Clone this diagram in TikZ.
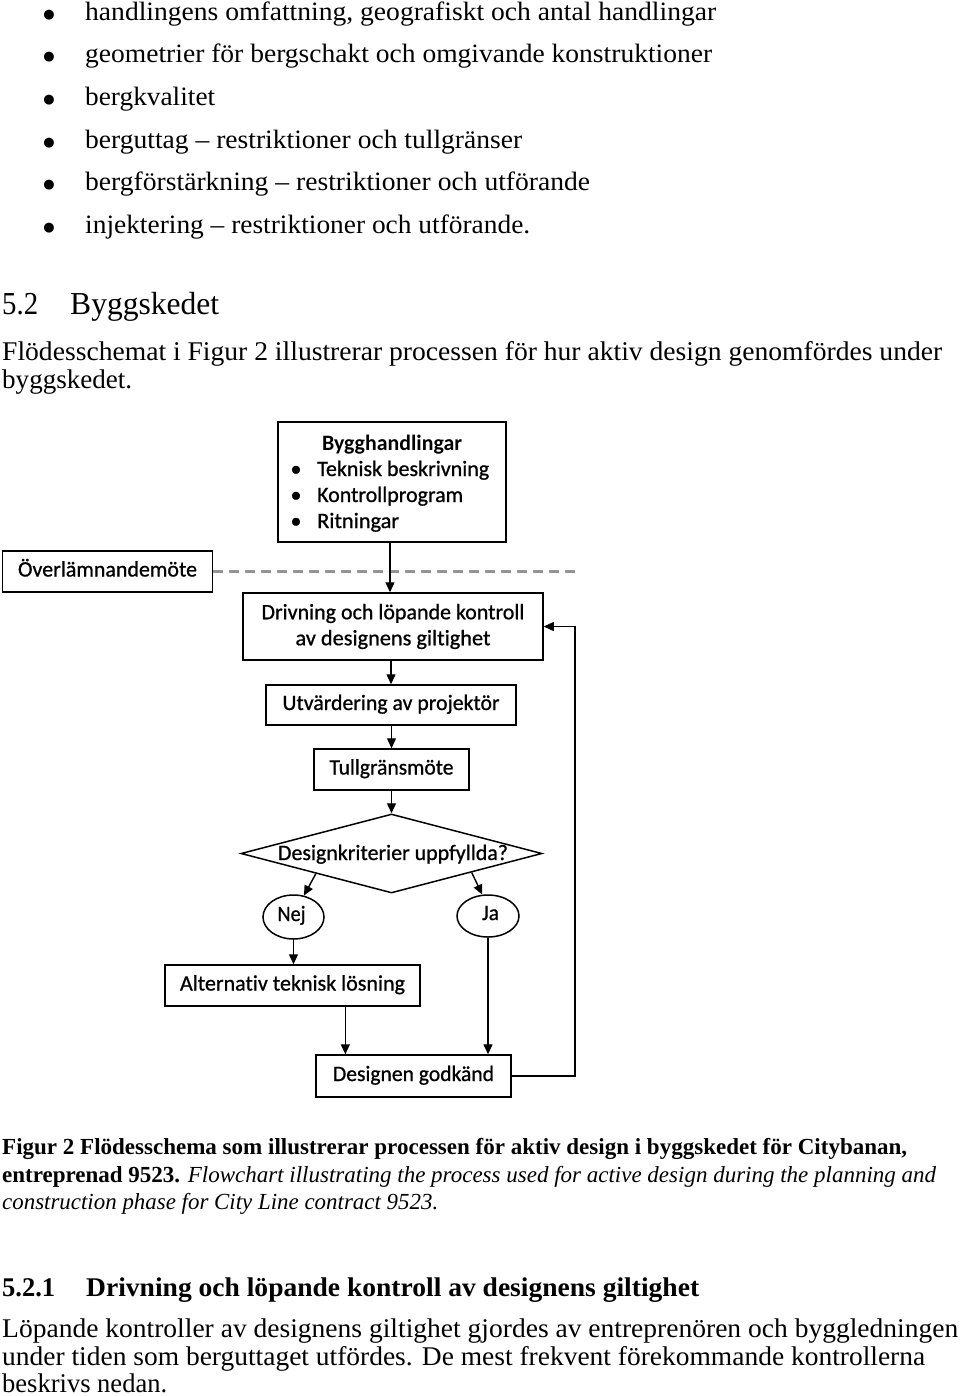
\documentclass[tikz,border=0pt]{standalone}
\usepackage{fontspec}
\usepackage{graphicx}
\setmainfont{Liberation Serif}
\newfontfamily\flowfont[Ligatures={NoCommon},FakeBold=0.8]{Carlito}
\newfontfamily\flowbold[Ligatures={NoCommon}]{Carlito Bold}
\newfontfamily\dotfont{DejaVu Sans}
\usetikzlibrary{arrows.meta,shapes.geometric,calc}
\newlength\fwlen
\newcommand\fitw[2]{\settowidth{\fwlen}{#2}\pgfmathsetmacro\fwr{#1/\fwlen}\scalebox{\fwr}[1]{#2}}
\begin{document}
\begin{tikzpicture}[x=1pt,y=-1pt,
  ptxt/.style={anchor=base west, inner sep=0pt, font=\fontsize{26.5}{30}\selectfont},
  pdot/.style={anchor=base, inner sep=0pt, font=\dotfont\fontsize{13}{15}\selectfont},
  htxt/.style={anchor=base west, inner sep=0pt, font=\fontsize{32}{36}\selectfont},
  btxt/.style={anchor=base west, inner sep=0pt, font=\fontsize{27}{30}\selectfont},
  ctxt/.style={anchor=base west, inner sep=0pt, font=\fontsize{23}{27}\selectfont},
  box/.style={draw=black, line width=1.5pt, rectangle, inner sep=0pt, align=center,
    font=\flowfont\fontsize{22}{26}\selectfont},
  thick box/.style={box, line width=1.9pt},
  oneline/.style={text height=15pt, text depth=5pt},
  ftxt/.style={inner sep=0pt, font=\flowfont\fontsize{22}{26}\selectfont},
  ell/.style={draw=black, line width=1.5pt, ellipse, inner sep=0pt},
  arr/.style={line width=1.4pt, -{Triangle[length=10pt,width=9pt]}},
  dashline/.style={line width=2.6pt, draw=black!42, dash pattern=on 10pt off 6pt}
]
\useasboundingbox (0,0) rectangle (960,1396);
\fill[white] (0,0) rectangle (960,1396);

% ---- bullet list ----
\node[pdot] (d1) at (49,18.5) {●};
\node[pdot] (d2) at (49,61) {●};
\node[pdot] (d3) at (49,104) {●};
\node[pdot] (d4) at (49,146.5) {●};
\node[pdot] (d5) at (49,189) {●};
\node[pdot] (d6) at (49,232) {●};
\node[ptxt] (l1) at (85,20.5) {\fitw{631}{handlingens omfattning, geografiskt och antal handlingar}};
\node[ptxt] (l2) at (85,63) {\fitw{627}{geometrier för bergschakt och omgivande konstruktioner}};
\node[ptxt] (l3) at (85,106) {\fitw{130}{bergkvalitet}};
\node[ptxt] (l4) at (85,148.5) {\fitw{437}{berguttag – restriktioner och tullgränser}};
\node[ptxt] (l5) at (85,191) {\fitw{505}{bergförstärkning – restriktioner och utförande}};
\node[ptxt] (l6) at (85,234) {\fitw{445}{injektering – restriktioner och utförande.}};

% ---- heading 5.2 and paragraph ----
\node[htxt] (h1n) at (2,315) {\fitw{36}{5.2}};
\node[htxt] (h1t) at (70,315) {\fitw{149}{Byggskedet}};
\node[btxt] (p1) at (2,360) {\fitw{940}{Flödesschemat i Figur 2 illustrerar processen för hur aktiv design genomfördes under}};
\node[btxt] (p2) at (2,388) {\fitw{130}{byggskedet.}};

% ---- flowchart ----
\node[thick box, minimum width=228pt, minimum height=120pt] (byg) at (392,482) {};
\node[ftxt, anchor=base, font=\flowbold\fontsize{22}{26}\selectfont] (bygT) at (392,450) {\fitw{140}{Bygghandlingar}};
\node[ftxt, anchor=base] (bu1) at (296,476) {•};
\node[ftxt, anchor=base] (bu2) at (296,502) {•};
\node[ftxt, anchor=base] (bu3) at (296,528) {•};
\node[ftxt, anchor=base west] (bi1) at (317,476) {\fitw{172}{Teknisk beskrivning}};
\node[ftxt, anchor=base west] (bi2) at (317,502) {\fitw{146}{Kontrollprogram}};
\node[ftxt, anchor=base west] (bi3) at (317,528) {\fitw{82}{Ritningar}};

\node[thick box, oneline, minimum width=210pt, minimum height=41pt] (ov) at (107.5,571.5) {\fitw{179}{Överlämnandemöte}};
\coordinate (dashend) at (579,571.5);
\draw[dashline] (ov.east) -- (dashend);

\node[box, minimum width=300pt, minimum height=67pt] (driv) at (393,626.5)
  {\fitw{263}{Drivning och löpande kontroll}\\\fitw{195}{av designens giltighet}};
\node[box, oneline, minimum width=250pt, minimum height=40pt] (utv) at (391,705) {\fitw{217}{Utvärdering av projektör}};
\node[box, oneline, minimum width=155pt, minimum height=41pt] (tull) at (391.5,769.5) {\fitw{124}{Tullgränsmöte}};
\node[draw=black, line width=1.5pt, diamond, inner sep=0pt, minimum width=301pt, minimum height=79pt] (dia) at (391.5,853.5) {};
\node[ftxt, oneline] (diaT) at (393,855) {\fitw{230}{Designkriterier uppfyllda?}};
\node[ell, minimum width=61pt, minimum height=44pt] (nej) at (293.5,917) {};
\node[ftxt, oneline] (nejT) at (291.5,916) {\fitw{28}{Nej}};
\node[ell, minimum width=62pt, minimum height=42pt] (ja) at (488,916) {};
\node[ftxt, oneline] (jaT) at (490.5,915) {\fitw{17}{Ja}};
\node[box, oneline, minimum width=255pt, minimum height=41pt] (alt) at (292.5,985.5) {\fitw{225}{Alternativ teknisk lösning}};
\node[box, oneline, minimum width=195pt, minimum height=42pt] (des) at (413.5,1076) {\fitw{161}{Designen godkänd}};

% connectors
\draw[arr] (byg.south -| 390,0) -- (driv.north -| 390,0);
\draw[arr] (utv.north |- driv.south) -- (utv.north);
\draw[arr] (tull.north |- utv.south) -- (tull.north);
\draw[arr] (dia.north |- tull.south) -- (dia.north);
\coordinate (dl) at ($(dia.west)!0.5!(dia.south)$);
\coordinate (dr) at ($(dia.east)!0.47!(dia.south)$);
\draw[arr] (dl) -- (nej.64);
\draw[arr] (dr) -- (ja.105);
\draw[arr] (nej.south) -- (nej.south |- alt.north);
\coordinate (a1) at ($(alt.south west)!0.706!(alt.south east)$);
\draw[arr] (a1) -- (a1 |- des.north);
\draw[arr] (ja.south) -- (ja.south |- des.north);
\coordinate (fb) at (575,1076);
\draw[arr] (des.east) -- (fb) |- (driv.east);

% ---- caption ----
\node[ctxt] (c1) at (2,1154) {\fitw{905}{\bfseries Figur 2 Flödesschema som illustrerar processen för aktiv design i byggskedet för Citybanan,}};
\node[ctxt] (c2) at (2,1182) {\fitw{934}{{\bfseries entreprenad 9523.} \textit{Flowchart illustrating the process used for active design during the planning and}}};
\node[ctxt] (c3) at (2,1209) {\fitw{436}{\itshape construction phase for City Line contract 9523.}};

% ---- heading 5.2.1 and paragraph ----
\node[btxt] (h2n) at (2,1296) {\fitw{53}{\bfseries 5.2.1}};
\node[btxt] (h2t) at (86,1296) {\fitw{613}{\bfseries Drivning och löpande kontroll av designens giltighet}};
\node[btxt] (q1) at (2,1337) {\fitw{956}{Löpande kontroller av designens giltighet gjordes av entreprenören och byggledningen}};
\node[btxt] (q2) at (2,1365) {\fitw{923}{under tiden som berguttaget utfördes. De mest frekvent förekommande kontrollerna}};
\node[btxt] (q3) at (2,1392) {\fitw{165}{beskrivs nedan.}};
\end{tikzpicture}
\end{document}
